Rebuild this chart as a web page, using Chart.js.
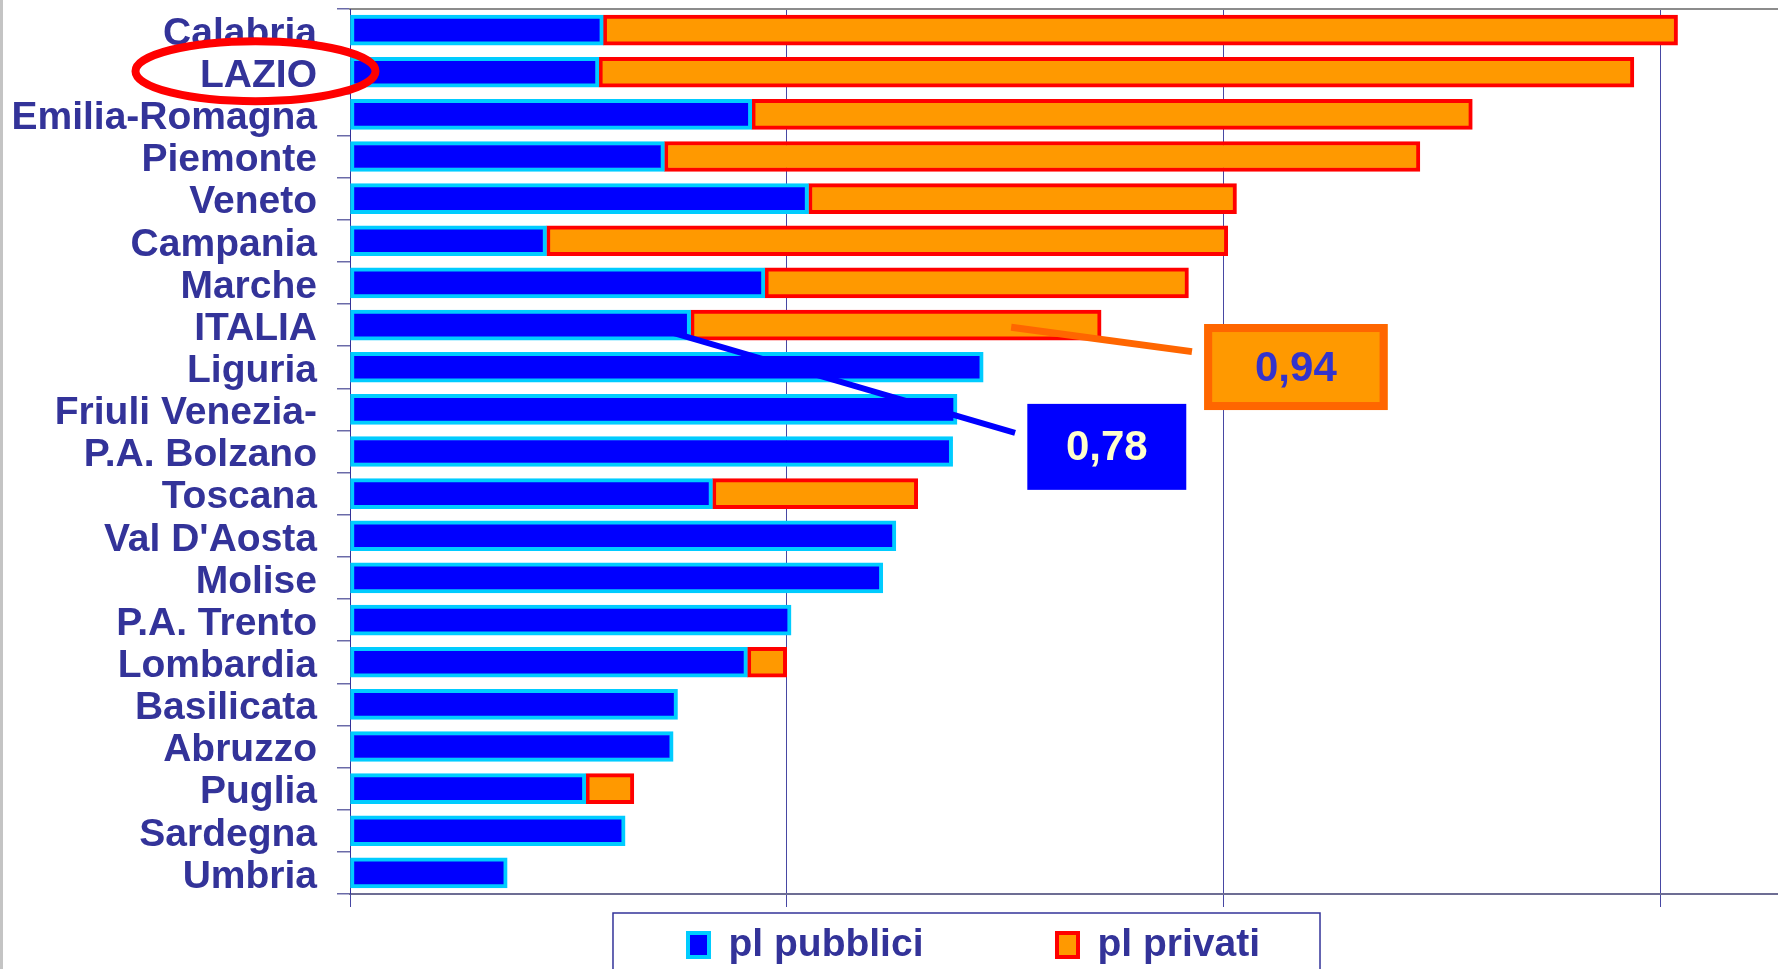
<!DOCTYPE html>
<html>
<head>
<meta charset="utf-8">
<script src="https://cdn.jsdelivr.net/npm/chart.js@4.4.1/dist/chart.umd.min.js"></script>
<style>
html,body{margin:0;padding:0;background:#ffffff;overflow:hidden}
#wrap{position:relative;width:1778px;height:969px}
</style>
</head>
<body>
<div id="wrap"><canvas id="c" width="1778" height="969"></canvas></div>
<script>
// ---------------- data ----------------
const categories = ['Calabria','LAZIO','Emilia-Romagna','Piemonte','Veneto','Campania','Marche','ITALIA','Liguria','Friuli Venezia-','P.A. Bolzano','Toscana',"Val D'Aosta",'Molise','P.A. Trento','Lombardia','Basilicata','Abruzzo','Puglia','Sardegna','Umbria'];
const plPubblici = [0.58, 0.57, 0.92, 0.72, 1.05, 0.45, 0.95, 0.78, 1.45, 1.39, 1.38, 0.83, 1.25, 1.22, 1.01, 0.91, 0.75, 0.74, 0.54, 0.63, 0.36];
const plPrivati  = [2.46, 2.37, 1.65, 1.73, 0.98, 1.56, 0.97, 0.94, 0,    0,    0,    0.47, 0,    0,    0,    0.09, 0,    0,    0.11, 0,    0];
const seriesNames = ['pl pubblici', 'pl privati'];
const xGridValues = [0, 1, 2, 3];
const xMax = 3.27;
const highlightCategory = 'LAZIO';
const calloutCategory = 'ITALIA';

// ---------------- styling ----------------
const FONT = "'Liberation Sans', Arial, sans-serif";
const NAVY = '#333399';
const LEGEND_SHIFT = 85;
// callout geometry in data units: [xValue, categoryIndex]
const calloutPub  = { box: [1.551, 8.87, 1.915, 10.91], line: [0.742, 7.19, 1.523, 9.56] };
const calloutPriv = { box: [1.956, 6.975, 2.376, 9.016], line: [1.514, 7.05, 1.928, 7.63] };

const fmt = v => v.toFixed(2).replace('.', ',');

const decoPlugin = {
  id: 'deco',
  afterLayout(chart) {
    const lg = chart.legend;
    if (lg) { lg.left += LEGEND_SHIFT; lg.right += LEGEND_SHIFT; }
  },
  afterDraw(chart) {
    const { ctx, chartArea } = chart;
    const xs = chart.scales.x, ys = chart.scales.y;
    const X = v => xs.getPixelForValue(v);
    const Y = f => ys.getPixelForValue(f);
    const ci = categories.indexOf(calloutCategory);
    ctx.save();
    // leader lines
    ctx.lineCap = 'butt';
    ctx.strokeStyle = '#0000FF'; ctx.lineWidth = 6;
    ctx.beginPath();
    ctx.moveTo(X(calloutPub.line[0]), Y(calloutPub.line[1]));
    ctx.lineTo(X(calloutPub.line[2]), Y(calloutPub.line[3]));
    ctx.stroke();
    ctx.strokeStyle = '#FF6600'; ctx.lineWidth = 7;
    ctx.beginPath();
    ctx.moveTo(X(calloutPriv.line[0]), Y(calloutPriv.line[1]));
    ctx.lineTo(X(calloutPriv.line[2]), Y(calloutPriv.line[3]));
    ctx.stroke();
    // blue box
    let bx0 = X(calloutPub.box[0]), by0 = Y(calloutPub.box[1]), bx1 = X(calloutPub.box[2]), by1 = Y(calloutPub.box[3]);
    ctx.fillStyle = '#0000FF';
    ctx.fillRect(bx0, by0, bx1 - bx0, by1 - by0);
    ctx.font = 'bold 42px ' + FONT;
    ctx.textAlign = 'center'; ctx.textBaseline = 'middle';
    ctx.fillStyle = '#FFFFCC';
    ctx.fillText(fmt(plPubblici[ci]), (bx0 + bx1) / 2, (by0 + by1) / 2 + 2);
    // orange box
    let ox0 = X(calloutPriv.box[0]), oy0 = Y(calloutPriv.box[1]), ox1 = X(calloutPriv.box[2]), oy1 = Y(calloutPriv.box[3]);
    ctx.fillStyle = '#FF9900';
    ctx.fillRect(ox0, oy0, ox1 - ox0, oy1 - oy0);
    ctx.strokeStyle = '#FF6600'; ctx.lineWidth = 8;
    ctx.strokeRect(ox0 + 4, oy0 + 4, ox1 - ox0 - 8, oy1 - oy0 - 8);
    ctx.fillStyle = '#3333CC';
    ctx.fillText(fmt(plPrivati[ci]), (ox0 + ox1) / 2, (oy0 + oy1) / 2 + 2);
    // highlight oval
    const hi = categories.indexOf(highlightCategory);
    ctx.strokeStyle = '#FF0000'; ctx.lineWidth = 8;
    ctx.beginPath();
    ctx.ellipse(chartArea.left - 94.5, Y(hi) - 1, 120, 30, 0, 0, Math.PI * 2);
    ctx.stroke();
    // legend frame
    const lg = chart.legend;
    if (lg && lg.legendHitBoxes && lg.legendHitBoxes.length) {
      const hb = lg.legendHitBoxes;
      const first = hb[0], last = hb[hb.length - 1];
      const fl = first.left - 75, fr = last.left + last.width + 60;
      ctx.strokeStyle = NAVY; ctx.lineWidth = 1.5;
      ctx.strokeRect(fl, lg.top + 5, fr - fl, 200);
    }
    // slide left edge
    ctx.fillStyle = '#c4c4c4';
    ctx.fillRect(0, 0, 3, chart.height);
    ctx.restore();
  }
};

new Chart(document.getElementById('c'), {
  type: 'bar',
  data: {
    labels: categories,
    datasets: [
      { label: seriesNames[0], data: plPubblici, backgroundColor: '#0000FF', borderColor: '#00CCFF',
        borderWidth: 4, borderSkipped: false, barThickness: 30, stack: 's' },
      { label: seriesNames[1], data: plPrivati, backgroundColor: '#FF9900', borderColor: '#FF0000',
        borderWidth: 4, borderSkipped: false, barThickness: 30, stack: 's' }
    ]
  },
  options: {
    indexAxis: 'y',
    responsive: false,
    animation: false,
    devicePixelRatio: 1,
    layout: { padding: { top: 9, left: 0, right: 0, bottom: -5.5 } },
    scales: {
      x: {
        type: 'linear', position: 'bottom', stacked: true, min: 0, max: xMax,
        afterBuildTicks: s => { s.ticks = xGridValues.map(v => ({ value: v })); },
        afterFit: s => { s.height = 14; },
        ticks: { display: false },
        grid: { display: true, drawOnChartArea: true, drawTicks: true, tickLength: 13, color: 'rgba(51,51,153,0.9)', lineWidth: 1 },
        border: { display: true, color: '#6d6d94', width: 2 }
      },
      x2: {
        type: 'linear', position: 'top', min: 0, max: xMax,
        ticks: { display: false },
        grid: { display: false, drawTicks: false },
        border: { display: true, color: '#8c8c8c', width: 2 }
      },
      y: {
        type: 'category', stacked: true, offset: true,
        afterFit: s => { s.width = 350; s.paddingTop = 0; s.paddingBottom = 0; },
        ticks: { autoSkip: false, padding: 20, labelOffset: 4, color: NAVY, font: { family: FONT, size: 39, weight: 'bold' } },
        grid: { display: true, drawOnChartArea: false, drawTicks: true, tickLength: 13, offset: true, color: '#6a6aa8', lineWidth: 1.5 },
        border: { display: true, color: NAVY, width: 1 }
      }
    },
    plugins: {
      tooltip: { enabled: false },
      legend: {
        position: 'bottom',
        labels: {
          color: NAVY,
          font: { family: FONT, size: 39, weight: 'bold' },
          boxWidth: 21, boxHeight: 24, padding: 17.5,
          generateLabels(chart) {
            const items = Chart.defaults.plugins.legend.labels.generateLabels(chart);
            const spacer = () => ({ text: '', fillStyle: 'rgba(0,0,0,0)', strokeStyle: 'rgba(0,0,0,0)', lineWidth: 0, hidden: false, datasetIndex: -1 });
            return [items[0], spacer(), spacer(), items[1]];
          }
        }
      }
    }
  },
  plugins: [decoPlugin]
});
</script>
</body>
</html>
